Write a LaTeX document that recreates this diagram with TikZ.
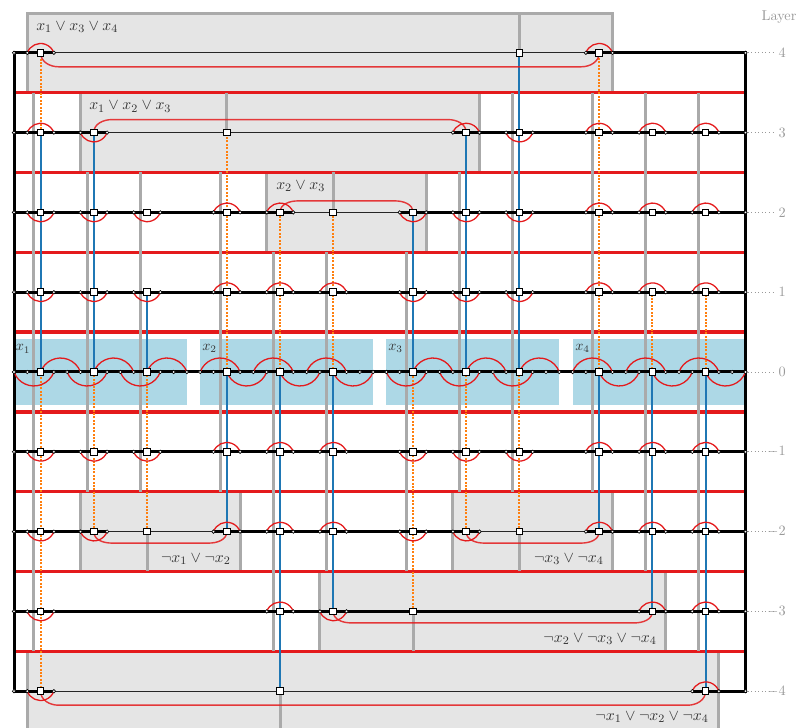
\documentclass[tikz,border=0pt]{standalone}
\usetikzlibrary{calc}
\definecolor{redl}{HTML}{E41A1C}
\definecolor{bluel}{HTML}{1F77B4}
\definecolor{orangel}{HTML}{FF7F0E}
\definecolor{boxfill}{HTML}{E5E5E5}
\definecolor{boxdraw}{HTML}{AAAAAA}
\definecolor{varfill}{HTML}{ADD8E6}
\definecolor{laytext}{HTML}{999999}
\definecolor{labtext}{HTML}{333333}
\newcommand\layerarcsdots[2]{%
  \pgfmathsetmacro\lyy{79.8*#1-372}%
  \pgfmathtruncatemacro\lyi{#1+4}%
  \foreach \c/\s in {#2} {%
    \ifnum\s=0\relax\else
      \draw[redarc] ({14+13.3*(\c-1)},\lyy) arc[start angle={180-20*\s}, end angle={180-160*\s}, radius=14.15];
    \fi
  }%
  \foreach \c/\s in {#2} {%
    \ifnum\s=0\relax\else
      \node[dt] (d-\c-\lyi-l) at ({14+13.3*(\c-1)},\lyy) {};
      \node[dt] (d-\c-\lyi-r) at ({14+13.3*(\c+1)},\lyy) {};
    \fi
  }%
}
\begin{document}
\begin{tikzpicture}[x=0.7pt,y=0.7pt,
  sq/.style={draw=black,fill=white,line width=0.7pt,minimum size=4.6pt,inner sep=0pt},
  dt/.style={circle,draw=black,fill=white,line width=0.45pt,minimum size=2.4pt,inner sep=0pt},
  layerthick/.style={line width=2.1pt,black},
  layerthin/.style={line width=0.8pt,black!85},
  halfred/.style={line width=2.3pt,redl},
  graybar/.style={line width=2.1pt,boxdraw},
  clausebox/.style={fill=boxfill,draw=boxdraw,line width=2.1pt},
  varbox/.style={fill=varfill},
  blueseg/.style={line width=1.4pt,bluel},
  orangeseg/.style={line width=1.4pt,orangel,densely dotted},
  redarc/.style={line width=0.9pt,redl},
  clausecurve/.style={line width=1pt,redl,opacity=0.85},
  laynum/.style={text=laytext,anchor=east,inner sep=0pt},
  clauselab/.style={text=labtext,inner sep=0pt,font=\fontsize{10.95}{13}\selectfont},
  varlab/.style={text=labtext,inner sep=0pt,anchor=west},
  guide/.style={laytext,line width=0.5pt,dotted},
]
\useasboundingbox (0,0) rectangle (800,-728);

% clause boxes
\foreach \ka/\kb/\ya/\yb in {1/45/-13.5/-92.7, 5/35/-92.7/-172.5, 19/31/-172.5/-252.3, 5/17/-491.7/-571.5, 33/45/-491.7/-571.5, 23/49/-571.5/-651.3, 1/53/-651.3/-745}
  \path[clausebox] ({14+13.3*\ka},\ya) rectangle ({14+13.3*\kb},\yb);

% variable boxes
\foreach \ka in {0,14,28,42}
  \path[varbox] ({14+13.3*\ka},-339) rectangle ({14+13.3*(\ka+13)},-405.5);

% red half-layer lines
\foreach \yr in {-92.7,-172.5,-252.3,-332.1,-411.9,-491.7,-571.5,-651.3}
  \draw[halfred] (14,\yr) -- (745.5,\yr);

% gray bars
\foreach \c/\lo/\hi in {2/-3/3, 6/-1/2, 10/-1/2, 16/-1/2, 20/-3/1, 24/-2/1, 30/-2/1, 34/-1/2, 38/-1/3, 44/-1/3, 48/-2/3, 52/-3/3}
  \draw[graybar] ({14+13.3*(\c-0.5)},{79.8*\hi-372+39.9}) -- ({14+13.3*(\c-0.5)},{79.8*\lo-372-39.9});
% dividers
\foreach \c/\L/\ye in {38/4/-13.5, 16/3/-92.7, 24/2/-172.5, 10/-2/-571.5, 38/-2/-571.5, 30/-3/-651.3, 20/-4/-745}
  \draw[graybar] ({14+13.3*\c},{79.8*\L-372}) -- ({14+13.3*\c},\ye);

% square coordinates
\foreach \c/\B/\T in {2/-4/4, 6/-2/3, 10/-2/2, 16/-2/3, 20/-4/2, 24/-3/2, 30/-3/2, 34/-2/3, 38/-2/4, 44/-2/4, 48/-3/3, 52/-4/3} {
  \foreach \L in {\B,...,\T} {
    \pgfmathtruncatemacro\li{\L+4}
    \coordinate (p-\c-\li) at ({14+13.3*\c},{79.8*\L-372});
  }
}

% layer lines
\foreach \L/\a/\b in {4/0/3, 4/43/55, 3/0/7, 3/33/55, 2/0/21, 2/29/55, 1/0/55, 0/0/55, -1/0/55, -2/0/7, -2/15/35, -2/43/55, -3/0/55, -4/0/3, -4/51/55}
  \draw[layerthick] ({14+13.3*\a},{79.8*\L-372}) -- ({14+13.3*\b},{79.8*\L-372});
\foreach \L/\a/\b in {4/3/43, 3/7/33, 2/21/29, -2/7/15, -2/35/43, -4/3/51}
  \draw[layerthin] ({14+13.3*\a},{79.8*\L-372}) -- ({14+13.3*\b},{79.8*\L-372});
\coordinate (bl-top) at (14,-52.8);
\coordinate (bl-bot) at (14,-691.2);
\coordinate (br-top) at (745.5,-52.8);
\coordinate (br-bot) at (745.5,-691.2);
\draw[layerthick,line cap=rect] (bl-top) -- (bl-bot);
\draw[layerthick,line cap=rect] (br-top) -- (br-bot);

% coloured verticals
\foreach \c/\ia/\ib/\st in {2/4/7/blueseg, 2/7/8/orangeseg, 2/0/4/orangeseg,
  6/4/7/blueseg, 6/2/4/orangeseg, 10/4/5/blueseg, 10/2/4/orangeseg,
  16/4/7/orangeseg, 16/2/4/blueseg, 20/4/6/orangeseg, 20/0/4/blueseg,
  24/4/6/orangeseg, 24/1/4/blueseg, 30/4/6/blueseg, 30/1/4/orangeseg,
  34/4/7/blueseg, 34/2/4/orangeseg, 38/4/8/blueseg, 38/2/4/orangeseg,
  44/4/8/orangeseg, 44/2/4/blueseg, 48/4/5/orangeseg, 48/1/4/blueseg,
  52/4/5/orangeseg, 52/0/4/blueseg}
  \draw[\st] (p-\c-\ia) -- (p-\c-\ib);

% clause curves
\foreach \a/\b/\i/\s/\d in {2/44/8/-1/14, 6/34/7/1/13, 20/30/6/1/11.5, 6/16/2/-1/11.5, 34/44/2/-1/11.5, 24/48/1/-1/11.5, 2/52/0/-1/14}
  \draw[clausecurve] (p-\a-\i) to[out=90*\s,in=180] ($(p-\a-\i)+(18,\d*\s)$) -- ($(p-\b-\i)+(-18,\d*\s)$) to[out=0,in=90*\s] (p-\b-\i);

% layer 0 arcs
\foreach \b/\p in {0/1, 14/-1, 28/1, 42/-1} {
  \foreach \j in {0,4,8}
    \draw[redarc] ({14+13.3*(\b+\j)},-372) arc[start angle={180+20*\p}, end angle={180+160*\p}, radius=21.23];
  \foreach \j in {2,6,10}
    \draw[redarc] ({14+13.3*(\b+\j)},-372) arc[start angle={180-20*\p}, end angle={180-160*\p}, radius=21.23];
}
\foreach \k in {0,...,55}
  \node[dt] (d0-\k) at ({14+13.3*\k},-372) {};

% other layers: arcs and dots
\layerarcsdots{4}{2/1, 38/0, 44/1}
\layerarcsdots{3}{2/1, 6/-1, 16/0, 34/1, 38/-1, 44/1, 48/1, 52/1}
\layerarcsdots{2}{2/-1, 6/-1, 10/-1, 16/1, 20/1, 24/0, 30/-1, 34/-1, 38/-1, 44/1, 48/1, 52/1}
\layerarcsdots{1}{2/-1, 6/-1, 10/-1, 16/1, 20/1, 24/1, 30/-1, 34/-1, 38/-1, 44/1, 48/1, 52/1}
\layerarcsdots{-1}{2/-1, 6/-1, 10/-1, 16/1, 20/1, 24/1, 30/-1, 34/-1, 38/-1, 44/1, 48/1, 52/1}
\layerarcsdots{-2}{2/-1, 6/-1, 10/0, 16/1, 20/1, 24/1, 30/-1, 34/-1, 38/0, 44/1, 48/1, 52/1}
\layerarcsdots{-3}{2/-1, 20/1, 24/-1, 30/0, 48/1, 52/1}
\layerarcsdots{-4}{2/-1, 20/0, 52/1}

% end dots, guides, layer numbers
\foreach \L/\t in {4/4, 3/3, 2/2, 1/1, 0/0, -1/$-1$, -2/$-2$, -3/$-3$, -4/$-4$} {
  \pgfmathtruncatemacro\li{\L+4}
  \node[dt] (e-\li-0) at (14,{79.8*\L-372}) {};
  \node[dt] (e-\li-55) at (745.5,{79.8*\L-372}) {};
  \coordinate (g-\li) at (776,{79.8*\L-372});
  \draw[guide] (e-\li-55) -- (g-\li);
  \node[laynum] (n-\li) at (786,{79.8*\L-372}) {\t};
}
\node[text=laytext,inner sep=0pt] (layertitle) at (779,-17) {Layer};

% squares
\foreach \c/\B/\T in {2/-4/4, 6/-2/3, 10/-2/2, 16/-2/3, 20/-4/2, 24/-3/2, 30/-3/2, 34/-2/3, 38/-2/4, 44/-2/4, 48/-3/3, 52/-4/3} {
  \foreach \L in {\B,...,\T} {
    \pgfmathtruncatemacro\li{\L+4}
    \node[sq] (q-\c-\li) at (p-\c-\li) {};
  }
}

% clause labels
\node[clauselab,anchor=west] (c4) at (36,-27) {$x_1 \lor x_3 \lor x_4$};
\node[clauselab,anchor=west] (c3) at (89,-106.5) {$x_1 \lor x_2 \lor x_3$};
\node[clauselab,anchor=west] (c2) at (276,-186) {$x_2 \lor x_3$};
\node[clauselab,anchor=east] (cm2a) at (231,-559) {$\neg x_1 \lor \neg x_2$};
\node[clauselab,anchor=east] (cm2b) at (604,-559) {$\neg x_3 \lor \neg x_4$};
\node[clauselab,anchor=east] (cm3) at (657,-639) {$\neg x_2 \lor \neg x_3 \lor \neg x_4$};
\node[clauselab,anchor=east] (cm4) at (709,-717) {$\neg x_1 \lor \neg x_2 \lor \neg x_4$};

% variable labels
\node[varlab] (v1) at (15.5,-349) {$x_1$};
\node[varlab] (v2) at (202,-348) {$x_2$};
\node[varlab] (v3) at (388,-348) {$x_3$};
\node[varlab] (v4) at (575,-348) {$x_4$};
\end{tikzpicture}
\end{document}
